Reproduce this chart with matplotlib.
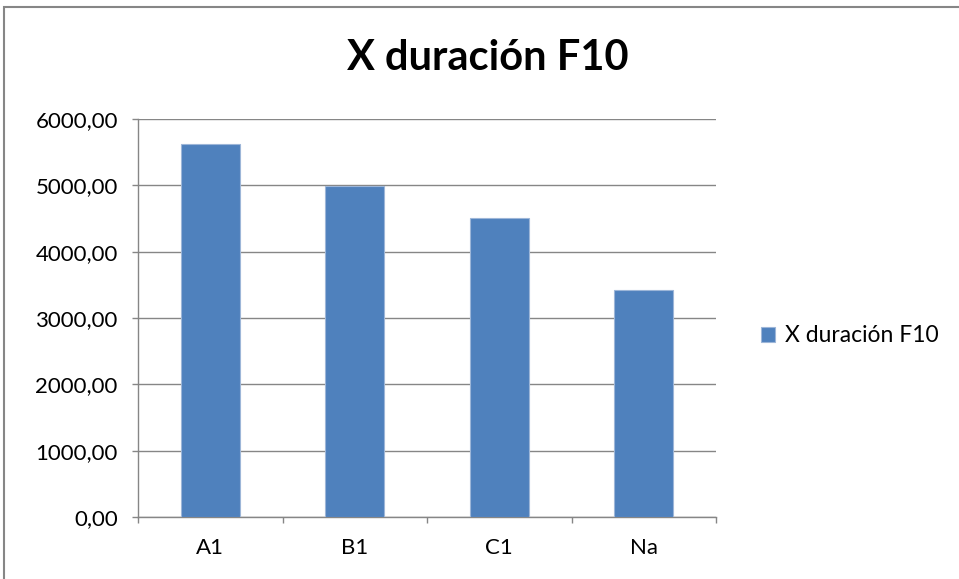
import numpy as np
import matplotlib.pyplot as plt
from matplotlib.patches import Rectangle

# Data
categories = ['A1', 'B1', 'C1', 'Na']
values = [5627, 4995, 4502, 3419]
series_name = 'X duración F10'
yticks = [0, 1000, 2000, 3000, 4000, 5000, 6000]

plt.rcParams['font.family'] = ['Lato', 'DejaVu Sans']

fig = plt.figure(figsize=(9.59, 5.79), dpi=100)
ax = fig.add_axes([138 / 959, 1 - 517 / 579, (716 - 138) / 959, (517 - 119) / 579])

x = np.arange(len(categories))
ax.bar(x, values, width=0.41, color='#4F81BD', edgecolor='#9DB6D8',
       linewidth=0.8, label=series_name, zorder=3)

ax.set_xlim(-0.5, len(categories) - 0.5)
ax.set_ylim(0, 6000)
ax.set_yticks(yticks)
ax.set_yticklabels([f'{v:.2f}'.replace('.', ',') for v in yticks], fontsize=16)
ax.set_xticks(x)
ax.set_xticklabels(categories, fontsize=16)
ax.set_xticks(np.arange(-0.5, len(categories)), minor=True)
ax.tick_params(axis='x', which='major', length=0, pad=15)
ax.tick_params(axis='x', which='minor', length=4.5, color='#868686', width=1)
ax.tick_params(axis='y', length=4.5, color='#868686', width=1, pad=10)

ax.grid(axis='y', color='#868686', linewidth=1, zorder=0)
for s in ['top', 'right']:
    ax.spines[s].set_visible(False)
for s in ['left', 'bottom']:
    ax.spines[s].set_color('#868686')
    ax.spines[s].set_linewidth(1)

fig.text(488 / 959, 1 - 58 / 579, series_name, ha='center', va='center',
         fontsize=30, fontweight='bold')

fig.legend(loc='center left', bbox_to_anchor=(761 / 959, 1 - 336 / 579),
           frameon=False, fontsize=16.5, handlelength=0.6, handleheight=0.6,
           handletextpad=0.45, borderpad=0, borderaxespad=0)

# chart border
fig.patches.append(Rectangle((4 / 959, -0.1), 1.2, 1 - 7 / 579 + 0.1,
                             transform=fig.transFigure, fill=False,
                             edgecolor='#868686', linewidth=1.5))

fig.savefig('out.png', dpi=100)
